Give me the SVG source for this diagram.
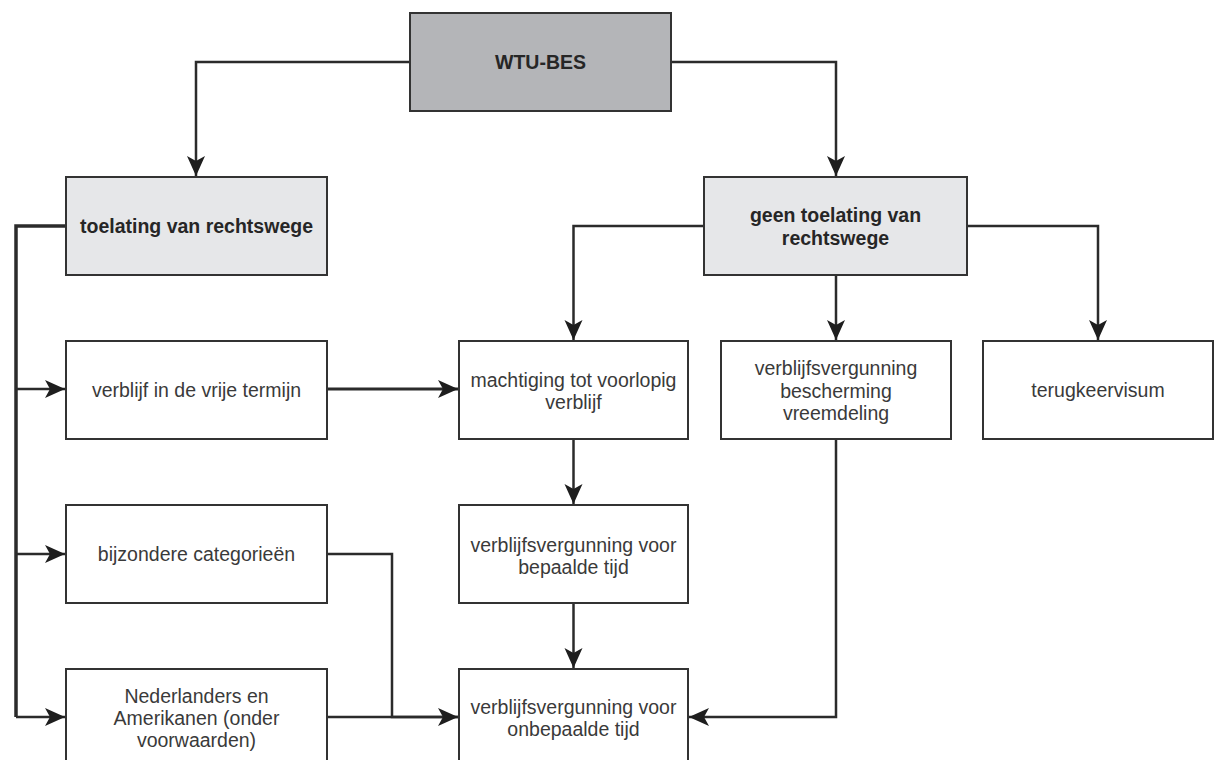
<svg xmlns="http://www.w3.org/2000/svg" width="1220" height="760" viewBox="0 0 1220 760">
  <style>
    .box { fill: #ffffff; stroke: #333333; stroke-width: 2; }
    .top { fill: #b4b5b8; }
    .sub { fill: #e6e7e9; }
    .t { font-family: "Liberation Sans", Arial, sans-serif; font-size: 19.5px; fill: #3a3a3a; text-anchor: middle; }
    .b { font-weight: bold; fill: #262626; }
    .c { fill: none; stroke: #2b2b2b; stroke-width: 2.5; stroke-linejoin: miter; }
    .bus { stroke-width: 3.5; }
  </style>
  <defs>
    <marker id="arr" markerUnits="userSpaceOnUse" markerWidth="22" markerHeight="20" refX="20" refY="9" orient="auto" viewBox="0 0 22 18">
      <path d="M0,0 L20,9 L0,18 L5,9 z" fill="#1e1e1e"/>
    </marker>
  </defs>
  <rect width="1220" height="760" fill="#ffffff"/>

  <g id="connectors">
    <path class="c" d="M410,62 H196 V176" marker-end="url(#arr)"/>
    <path class="c" d="M671,62 H836 V176" marker-end="url(#arr)"/>
    <path class="c bus" d="M66,226 H16 V717"/>
    <path class="c" d="M16,389 H65" marker-end="url(#arr)"/>
    <path class="c" d="M16,554 H65" marker-end="url(#arr)"/>
    <path class="c" d="M16,717 H65" marker-end="url(#arr)"/>
    <path class="c" d="M704,226 H573.5 V340" marker-end="url(#arr)"/>
    <path class="c" d="M836,275 V340" marker-end="url(#arr)"/>
    <path class="c" d="M967,226 H1098 V340" marker-end="url(#arr)"/>
    <path class="c" style="stroke-width:3" d="M327,389 H458" marker-end="url(#arr)"/>
    <path class="c" d="M573.5,439 V504" marker-end="url(#arr)"/>
    <path class="c" d="M573.5,603 V668" marker-end="url(#arr)"/>
    <path class="c" d="M327,554 H392 V717 H458"/>
    <path class="c" d="M327,717 H458" marker-end="url(#arr)"/>
    <path class="c" d="M836,439 V717 H689" marker-end="url(#arr)"/>
  </g>

  <g id="wtu-bes">
    <rect class="box top" x="410" y="13" width="261" height="98"/>
    <text class="t b" x="540.5" y="69">WTU-BES</text>
  </g>
  <g id="toelating">
    <rect class="box sub" x="66" y="177" width="261" height="98"/>
    <text class="t b" x="196.5" y="233">toelating van rechtswege</text>
  </g>
  <g id="geen-toelating">
    <rect class="box sub" x="704" y="177" width="263" height="98"/>
    <text class="t b" x="835.5" y="222">geen toelating van</text>
    <text class="t b" x="835.5" y="245">rechtswege</text>
  </g>
  <g id="vrije-termijn">
    <rect class="box" x="66" y="341" width="261" height="98"/>
    <text class="t" x="196.5" y="397">verblijf in de vrije termijn</text>
  </g>
  <g id="machtiging">
    <rect class="box" x="459" y="341" width="229" height="98"/>
    <text class="t" x="573.5" y="387">machtiging tot voorlopig</text>
    <text class="t" x="573.5" y="409">verblijf</text>
  </g>
  <g id="bescherming">
    <rect class="box" x="721" y="341" width="230" height="98"/>
    <text class="t" x="836" y="375">verblijfsvergunning</text>
    <text class="t" x="836" y="398">bescherming</text>
    <text class="t" x="836" y="420">vreemdeling</text>
  </g>
  <g id="terugkeervisum">
    <rect class="box" x="983" y="341" width="230" height="98"/>
    <text class="t" x="1098" y="397">terugkeervisum</text>
  </g>
  <g id="bijzondere">
    <rect class="box" x="66" y="505" width="261" height="98"/>
    <text class="t" x="196.5" y="561">bijzondere categorieën</text>
  </g>
  <g id="bepaalde-tijd">
    <rect class="box" x="459" y="505" width="229" height="98"/>
    <text class="t" x="573.5" y="552">verblijfsvergunning voor</text>
    <text class="t" x="573.5" y="574">bepaalde tijd</text>
  </g>
  <g id="nederlanders">
    <rect class="box" x="66" y="669" width="261" height="98"/>
    <text class="t" x="196.5" y="703">Nederlanders en</text>
    <text class="t" x="196.5" y="725">Amerikanen (onder</text>
    <text class="t" x="196.5" y="747">voorwaarden)</text>
  </g>
  <g id="onbepaalde-tijd">
    <rect class="box" x="459" y="669" width="229" height="98"/>
    <text class="t" x="573.5" y="714">verblijfsvergunning voor</text>
    <text class="t" x="573.5" y="736">onbepaalde tijd</text>
  </g>
</svg>
